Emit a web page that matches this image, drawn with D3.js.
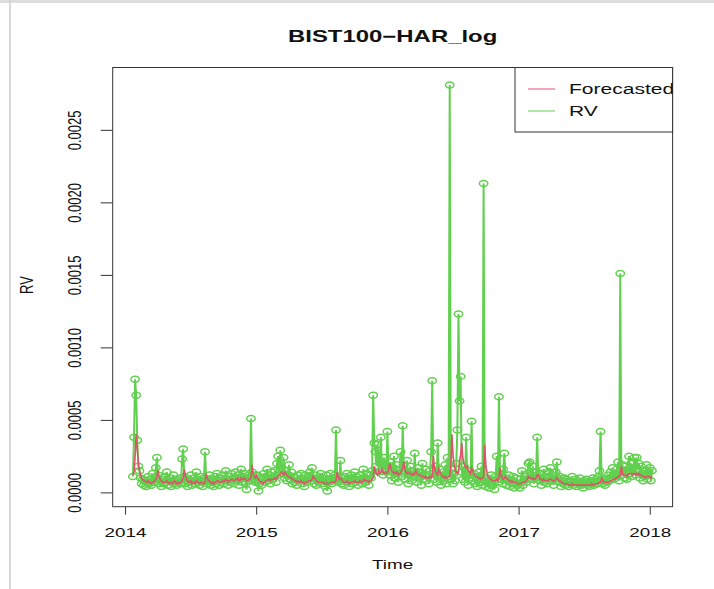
<!DOCTYPE html>
<html>
<head>
<meta charset="utf-8">
<script src="https://cdn.jsdelivr.net/npm/d3@7"></script>
<style>
  body { margin: 0; background: #fff; }
  text { font-family: "Liberation Sans", Arial, sans-serif; fill: #111; }
</style>
</head>
<body>
<svg id="chart" width="714" height="589"></svg>
<script>
// values below are in units of 1e-5 (RV x 100000), 120 observations per year
const unit = 1e-5

// realised volatility
const rv2014 = [11,38,78,67,36,18,15,10,6,9, 5,8,4,7,11,6,9,5,13,7, 10,17,24,12,6,8,4,9,6,11,
  7,14,5,8,10,4,7,12,6,9, 5,8,7,10,6,23,30,11,6,8, 4,9,7,12,5,8,10,6,14,7,
  9,5,11,7,4,10,28,9,6,8, 12,5,7,9,4,11,6,13,8,5, 10,7,12,6,9,15,8,5,11,7,
  13,9,6,10,14,8,12,5,9,16, 7,11,13,6,2,10,12,8,51,14, 9,12,7]
const rv2015 = [8,12,1,6,10,5,9,13,7,11, 16,8,12,6,14,9,11,15,7,20, 25,12,29,17,13,24,10,15,8,12,
  19,9,14,6,11,7,10,5,12,8, 9,13,6,10,4,12,7,9,11,14, 8,17,10,6,12,5,9,7,11,13,
  6,10,8,4,12,1,9,7,13,6, 10,8,12,43,11,7,9,22,6,10, 5,11,8,13,7,4,10,12,6,9,
  14,7,11,5,9,12,8,6,16,10, 7,13,9,5,12,10,15,67,34,28, 18,33,14,22,38,16,12,24,19,14]
const rv2016 = [42,17,12,21,8,15,25,10,19,13, 7,16,28,11,46,19,9,14,22,6, 12,18,8,15,11,27,13,7,17,10,
  14,5,20,9,12,16,8,11,6,15, 28,77,13,9,18,7,34,12,16,5, 10,14,8,19,6,24,11,281,9,16,
  6,13,8,20,43,123,63,80,14,9, 18,7,38,12,5,15,10,49,8,13, 6,11,4,9,14,7,18,5,213,8,
  4,10,6,3,9,12,5,8,2,11, 25,7,66,13,9,6,16,27,10,5, 8,12,4,9,6,11,3,7,10,5]
const rv2017 = [6,3,9,15,5,8,11,7,13,20, 21,9,12,18,6,10,14,38,11,8, 13,5,9,16,7,11,6,10,14,17,
  8,12,5,9,14,21,10,7,11,4, 8,6,10,5,9,7,4,8,6,11, 5,7,9,4,8,6,10,5,7,3,
  8,6,9,5,7,4,8,6,10,5, 7,9,6,11,15,42,8,6,10,5, 9,7,12,8,14,10,17,9,13,11,
  16,21,8,151,12,19,14,10,18,9, 15,25,13,20,11,17,24,12,24,16, 20,10,18,13,8,15,11,19,9,14]
const rv2018 = [17,8,15]

// HAR (log) forecasts
const fc2014 = [12,14,25,40,30,20,15,12,10,9, 8,8,7,7,8,7,7,6,7,7, 8,9,11,15,11,9,8,7,7,7,
  7,8,7,6,7,7,6,7,8,7, 6,7,6,7,7,8,10,16,11,9, 8,7,7,8,6,7,7,6,8,7,
  7,6,7,7,6,6,7,13,10,8, 8,7,6,7,6,7,7,8,8,7, 7,7,8,7,8,9,8,7,8,8,
  9,9,8,8,9,9,10,8,8,10, 9,9,10,9,8,8,9,9,10,19, 13,11,10]
const fc2015 = [12,10,9,8,7,7,6,7,7,8, 8,9,9,8,9,9,9,10,9,10, 11,12,12,14,13,12,14,13,12,11,
  11,10,10,9,9,8,8,7,8,7, 7,8,7,7,6,7,7,7,8,8, 8,9,11,10,9,8,7,7,7,7,
  7,7,6,6,7,6,6,6,7,7, 7,7,7,8,14,11,9,10,9,8, 7,7,7,8,7,6,7,7,7,7,
  8,7,7,7,7,8,7,7,8,9, 8,8,8,7,8,8,9,10,18,15, 13,12,15,13,14,16,14,13,14,13]
const fc2016 = [13,16,20,17,15,14,13,14,13,14, 12,13,13,15,17,21,16,14,13,14, 13,13,12,13,12,13,15,13,12,12,
  12,11,11,11,10,11,10,10,10,11, 10,11,25,17,14,13,12,16,14,13, 11,11,10,11,10,10,11,11,19,40,
  26,19,15,14,13,14,22,26,34,24, 20,18,17,18,15,14,13,17,15,13, 12,11,11,10,10,9,10,10,11,33,
  19,14,11,10,9,9,8,8,8,8, 9,8,10,17,12,10,9,10,11,10, 9,8,8,7,8,7,7,7,7,6]
const fc2017 = [6,6,6,7,7,7,7,8,9,11, 10,10,9,10,9,9,10,12,12,10, 9,9,8,9,8,8,8,8,9,9,
  9,8,8,8,9,10,9,8,8,7, 7,6,6,6,6,6,5,5,5,6, 5,5,5,5,5,5,5,5,5,5,
  5,5,5,5,5,5,5,6,5,5, 6,6,6,6,7,7,10,8,7,7, 7,7,7,7,8,8,9,9,9,10,
  10,11,11,12,18,13,12,12,12,11, 12,13,13,13,12,13,13,12,13,12, 13,12,12,11,11,11,10,11,11,11]
const fc2018 = [11,10,11]

const yearStarts = [2014.06, 2015, 2016, 2017, 2018]
const obsPerYear = 120
const yTicks = [0, 0.0005, 0.0010, 0.0015, 0.0020, 0.0025]
const xTicks = [2014, 2015, 2016, 2017, 2018]
const legendLabels = ["Forecasted", "RV"]

const red = "#DF536B", green = "#61D04F"
const sx = 1.45   // picture is horizontally stretched

function build(parts) {
  let out = []
  parts.forEach(function(arr, k) {
    arr.forEach(function(v, i) { out.push({ t: yearStarts[k] + i / obsPerYear, v: v * unit }) })
  })
  return out
}
let rv = build([rv2014, rv2015, rv2016, rv2017, rv2018])
let fc = build([fc2014, fc2015, fc2016, fc2017, fc2018])

let plotLeft = 112.7, plotRight = 672.6, plotTop = 67.5, plotBottom = 506.7

let x = d3.scaleLinear().domain([2013.906, 2018.174]).range([plotLeft, plotRight])
let y = d3.scaleLinear().domain([-0.0000986, 0.00293]).range([plotBottom, plotTop])

let svg = d3.select("#chart")

// frame of the screenshot
svg.append("rect").attr("x", 0).attr("y", 0).attr("width", 714).attr("height", 3).attr("fill", "#ddd")
svg.append("line").attr("x1", 10).attr("x2", 10).attr("y1", 0).attr("y2", 589)
  .attr("stroke", "#ccc").attr("stroke-width", 1.5)

// series
let line = d3.line().x(d => x(d.t)).y(d => y(d.v))

svg.append("path").datum(rv).attr("d", line)
  .attr("fill", "none").attr("stroke", green).attr("stroke-width", 2)

svg.append("g").selectAll("ellipse").data(rv).enter().append("ellipse")
  .attr("cx", d => x(d.t)).attr("cy", d => y(d.v))
  .attr("rx", 4.2).attr("ry", 3)
  .attr("fill", "none").attr("stroke", green).attr("stroke-width", 1.5)

svg.append("path").datum(fc).attr("d", line)
  .attr("fill", "none").attr("stroke", red).attr("stroke-width", 1.6)

// axes
let yAxis = svg.append("g").attr("transform", `translate(${plotLeft},0)`)
  .call(d3.axisLeft(y).tickValues(yTicks).tickSize(12).tickFormat(d3.format(".4f")))
yAxis.select(".domain").remove()
yAxis.selectAll("line").attr("stroke", "#333")
yAxis.selectAll("text")
  .attr("x", null).attr("dy", "0.36em")
  .attr("transform", `translate(-39,0) scale(${sx},1) rotate(-90)`)
  .attr("text-anchor", "middle").style("font-size", "13px").attr("fill", "#111")

let xAxis = svg.append("g").attr("transform", `translate(0,${plotBottom})`)
  .call(d3.axisBottom(x).tickValues(xTicks).tickSize(8).tickFormat(d3.format("d")))
xAxis.select(".domain").remove()
xAxis.selectAll("line").attr("stroke", "#333")
xAxis.selectAll("text").attr("y", null).attr("dy", null)
  .attr("transform", `translate(0,30) scale(${sx},1)`)
  .style("font-size", "13px").attr("fill", "#111")

// box
svg.append("rect").attr("x", plotLeft).attr("y", plotTop)
  .attr("width", plotRight - plotLeft).attr("height", plotBottom - plotTop)
  .attr("fill", "none").attr("stroke", "#333").attr("stroke-width", 1)

// titles
let cx = (plotLeft + plotRight) / 2
svg.append("text").attr("transform", `translate(${cx},42) scale(${sx},1)`)
  .attr("text-anchor", "middle").style("font-size", "16.5px").style("font-weight", "bold")
  .text("BIST100\u2212HAR_log")
svg.append("text").attr("transform", `translate(${cx},569) scale(${sx},1)`)
  .attr("text-anchor", "middle").style("font-size", "13px").text("Time")
svg.append("text").attr("dy", "0.36em")
  .attr("transform", `translate(26,285) scale(${sx},1) rotate(-90)`)
  .attr("text-anchor", "middle").style("font-size", "13px").text("RV")

// legend
let lg = { x: 515, y: plotTop, w: plotRight - 515, h: 64.5 }
svg.append("clipPath").attr("id", "lgclip").append("rect")
  .attr("x", lg.x).attr("y", lg.y).attr("width", lg.w).attr("height", lg.h)
svg.append("rect").attr("x", lg.x).attr("y", lg.y).attr("width", lg.w).attr("height", lg.h)
  .attr("fill", "#fff").attr("stroke", "#333").attr("stroke-width", 1)
let items = svg.append("g").attr("clip-path", "url(#lgclip)")
  .selectAll("g").data(legendLabels).enter().append("g")
  .attr("transform", (d, i) => `translate(0,${89 + i * 22})`)
items.append("line").attr("x1", 528).attr("x2", 555)
  .attr("stroke", (d, i) => i === 0 ? red : green).attr("stroke-width", 1.2)
items.append("text").attr("dy", "0.36em")
  .attr("transform", `translate(569,0) scale(${sx},1)`)
  .style("font-size", "14.5px").text(d => d)
</script>
</body>
</html>
